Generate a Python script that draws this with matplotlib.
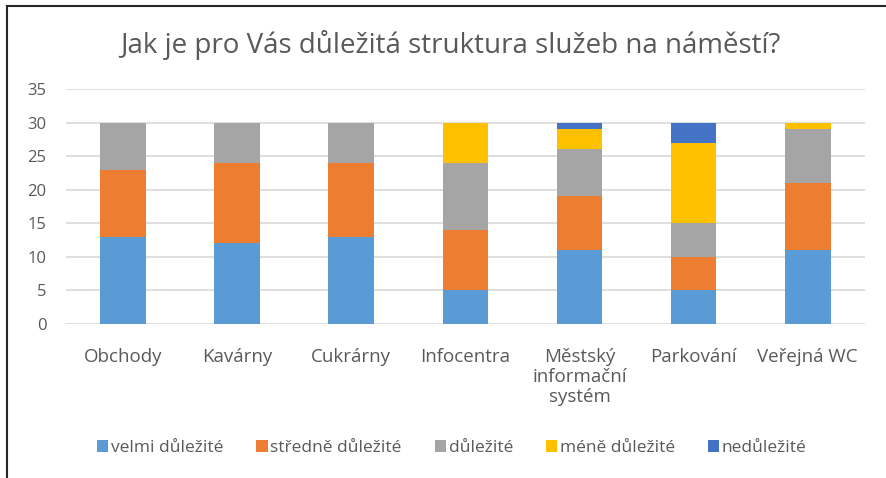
import matplotlib
matplotlib.use("Agg")
import matplotlib.pyplot as plt
import numpy as np
from matplotlib.lines import Line2D

categories = ["Obchody", "Kavárny", "Cukrárny", "Infocentra",
              "Městský\ninformační\nsystém", "Parkování", "Veřejná WC"]
series_names = ["velmi důležité", "středně důležité", "důležité", "méně důležité", "nedůležité"]
velmi = [13, 12, 13, 5, 11, 5, 11]
stredne = [10, 12, 11, 9, 8, 5, 10]
dulezite = [7, 6, 6, 10, 7, 5, 8]
mene = [0, 0, 0, 6, 3, 12, 1]
nedulezite = [0, 0, 0, 0, 1, 3, 0]
colors = ["#5b9bd5", "#ed7d31", "#a5a5a5", "#ffc000", "#4472c4"]
yticks = [0, 5, 10, 15, 20, 25, 30, 35]

plt.rcParams['font.family'] = ['Open Sans', 'DejaVu Sans']
txt = "#595959"

fig = plt.figure(figsize=(8.86, 4.78), dpi=100)
ax = fig.add_axes([0.0745, 0.322, 0.9015, 0.492])

x = np.arange(len(categories))
bottom = np.zeros(len(categories))
for vals, name, c in zip([velmi, stredne, dulezite, mene, nedulezite], series_names, colors):
    ax.bar(x, vals, width=0.4, bottom=bottom, color=c, label=name, zorder=3)
    bottom += np.array(vals)

ax.set_xlim(-0.5, len(categories) - 0.5)
ax.set_ylim(0, 35)
ax.set_yticks(yticks)
ax.yaxis.grid(True, color="#d9d9d9", linewidth=1.2, zorder=0)
ax.set_axisbelow(True)
for s in ax.spines.values():
    s.set_visible(False)
ax.tick_params(axis='both', length=0, colors=txt)
ax.tick_params(axis='y', pad=14, labelsize=12)
ax.tick_params(axis='x', pad=17)
ax.set_xticks(x)
ax.set_xticklabels(categories, fontsize=13.5, color=txt, linespacing=1.15)

fig.text(0.508, 0.905, "Jak je pro Vás důležitá struktura služeb na náměstí?",
         ha='center', va='center', fontsize=20, color=txt)

handles, labels = ax.get_legend_handles_labels()
leg = fig.legend(handles, labels, loc='center', bbox_to_anchor=(0.51, 0.062), ncol=5,
                 frameon=False, fontsize=12.5, handlelength=0.65, handleheight=0.65,
                 handletextpad=0.15, columnspacing=1.9, labelcolor=txt)

fig.add_artist(Line2D([7/886, 7/886], [0, 1 - 6/478], color="#262626", lw=1.5, transform=fig.transFigure))
fig.add_artist(Line2D([7/886, 1], [1 - 6/478, 1 - 6/478], color="#262626", lw=1.5, transform=fig.transFigure))

fig.savefig("out.png", dpi=100)
